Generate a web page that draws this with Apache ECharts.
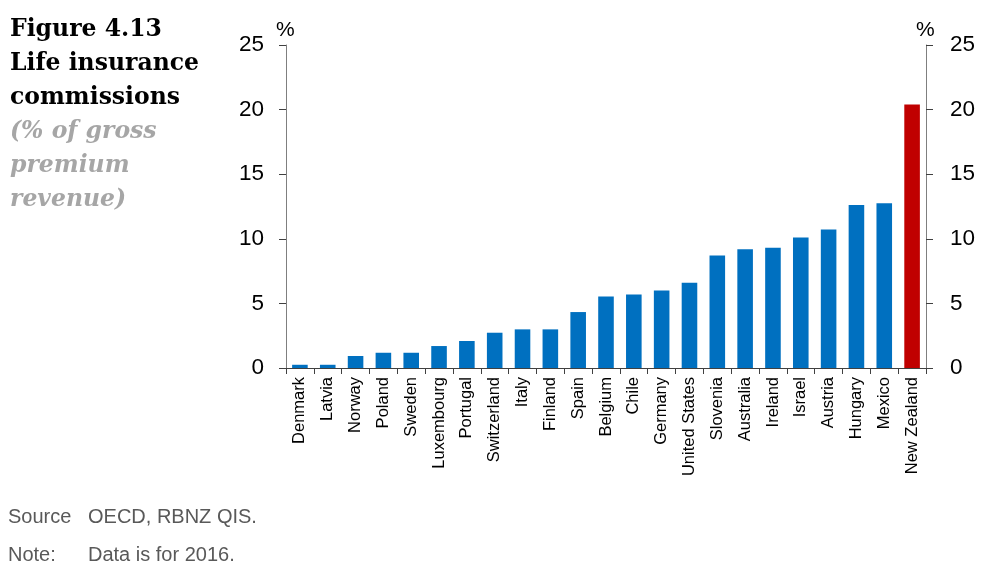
<!DOCTYPE html>
<html><head><meta charset="utf-8">
<script src="https://cdn.jsdelivr.net/npm/echarts@6/dist/echarts.min.js"></script>
<style>html,body{margin:0;padding:0;background:#fff}#c{width:995px;height:578px}</style>
</head><body><div id="c"></div>
<script>
const categories = ["Denmark","Latvia","Norway","Poland","Sweden","Luxembourg","Portugal","Switzerland","Italy","Finland","Spain","Belgium","Chile","Germany","United States","Slovenia","Australia","Ireland","Israel","Austria","Hungary","Mexico","New Zealand"];
const values = [0.25,0.25,0.93,1.18,1.18,1.7,2.09,2.73,2.99,2.99,4.33,5.53,5.69,6.0,6.6,8.71,9.2,9.3,10.1,10.72,12.62,12.75,20.4];
const highlight = "New Zealand";
const yTicks = {min:0, max:25, interval:5};

const chart = echarts.init(document.getElementById('c'));
const font = 'Arial, "Liberation Sans", sans-serif';
chart.setOption({
  animation:false,
  title:[
    {text:'Figure 4.13\nLife insurance\ncommissions', left:5, top:8,
     textStyle:{fontFamily:'"DejaVu Serif", serif', fontWeight:'bold', fontSize:23.5, lineHeight:34, color:'#000'}},
    {text:'(% of gross\npremium\nrevenue)', left:5, top:110,
     textStyle:{fontFamily:'"DejaVu Serif", serif', fontWeight:'bold', fontStyle:'italic', fontSize:23.5, lineHeight:34, color:'#a6a6a6'}},
    {text:'Source', left:3, top:502, textStyle:{fontFamily:font, fontWeight:'normal', fontSize:20, color:'#595959'}},
    {text:'OECD, RBNZ QIS.', left:83, top:502, textStyle:{fontFamily:font, fontWeight:'normal', fontSize:20, color:'#595959'}},
    {text:'Note:', left:3, top:540, textStyle:{fontFamily:font, fontWeight:'normal', fontSize:20, color:'#595959'}},
    {text:'Data is for 2016.', left:83, top:540, textStyle:{fontFamily:font, fontWeight:'normal', fontSize:20, color:'#595959'}},
    {text:'%', left:271, top:15, textStyle:{fontFamily:font, fontWeight:'normal', fontSize:21, color:'#000'}},
    {text:'%', left:911, top:15, textStyle:{fontFamily:font, fontWeight:'normal', fontSize:21, color:'#000'}}
  ],
  grid:{left:286, right:69, top:45, bottom:210, containLabel:false},
  xAxis:{type:'category', data:categories,
    axisLine:{lineStyle:{color:'#404040', width:1}},
    axisTick:{show:true, length:6, lineStyle:{color:'#404040'}},
    axisLabel:{rotate:90, interval:0, fontFamily:font, fontSize:16.5, color:'#000', margin:9}},
  yAxis:[
    {type:'value', min:yTicks.min, max:yTicks.max, interval:yTicks.interval, position:'left',
     axisLine:{show:true, lineStyle:{color:'#7f7f7f'}}, axisTick:{show:true, length:7, lineStyle:{color:'#404040'}},
     splitLine:{show:false}, axisLabel:{fontFamily:font, fontSize:22.5, color:'#000', margin:22}},
    {type:'value', min:yTicks.min, max:yTicks.max, interval:yTicks.interval, position:'right',
     axisLine:{show:true, lineStyle:{color:'#7f7f7f'}}, axisTick:{show:true, length:7, lineStyle:{color:'#404040'}},
     splitLine:{show:false}, axisLabel:{fontFamily:font, fontSize:22.5, color:'#000', margin:24}}
  ],
  series:[{type:'bar', barCategoryGap:'44%',
    data:values.map((v,i)=>({value:v, itemStyle:{color: categories[i]===highlight ? '#c00000' : '#0070c0'}}))}]
});
</script></body></html>
